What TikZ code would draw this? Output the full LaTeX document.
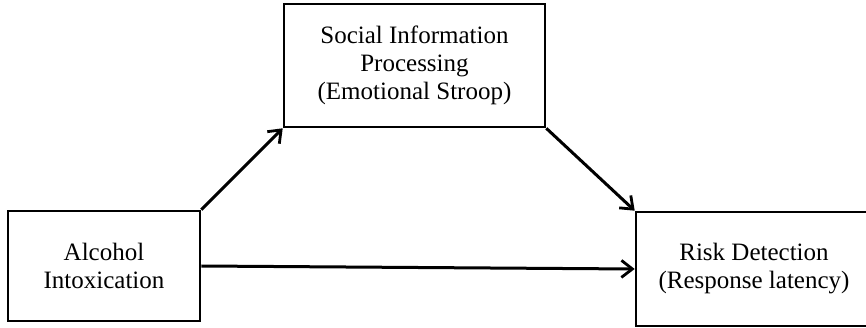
\documentclass[tikz,border=0pt]{standalone}
\usepackage{fontspec}
\setmainfont{Liberation Serif}
\usetikzlibrary{positioning,arrows.meta}

\begin{document}
\begin{tikzpicture}[x=1pt,y=-1pt,
    varbox/.style={draw, line width=2.6pt, align=center, inner sep=0pt,
        font=\fontsize{25}{28}\selectfont},
    path/.style={line width=3pt, -{Straight Barb[length=11pt,width=17pt,line width=2.8pt]}}]
        \useasboundingbox (0,0) rectangle (866,328);
        % Variablen: Ursache, Mediator, Wirkung
        \node[varbox, minimum width=192pt, minimum height=110pt] (alc) at (104,266) {Alcohol\\Intoxication};
        \node[varbox, minimum width=261pt, minimum height=123pt] (sip) at (414.5,65.5) {Social Information\\Processing\\(Emotional Stroop)};
        \node[varbox, minimum width=236pt, minimum height=114pt] (risk) at (754,269) {Risk Detection\\(Response latency)};
        % Pfade
        \draw[path] (alc.north east) -- (sip.south west);
        \draw[path] (sip.south east) -- (risk.north west);
        \draw[path] (alc.east) -- (risk.west);
    \end{tikzpicture}
\end{document}
